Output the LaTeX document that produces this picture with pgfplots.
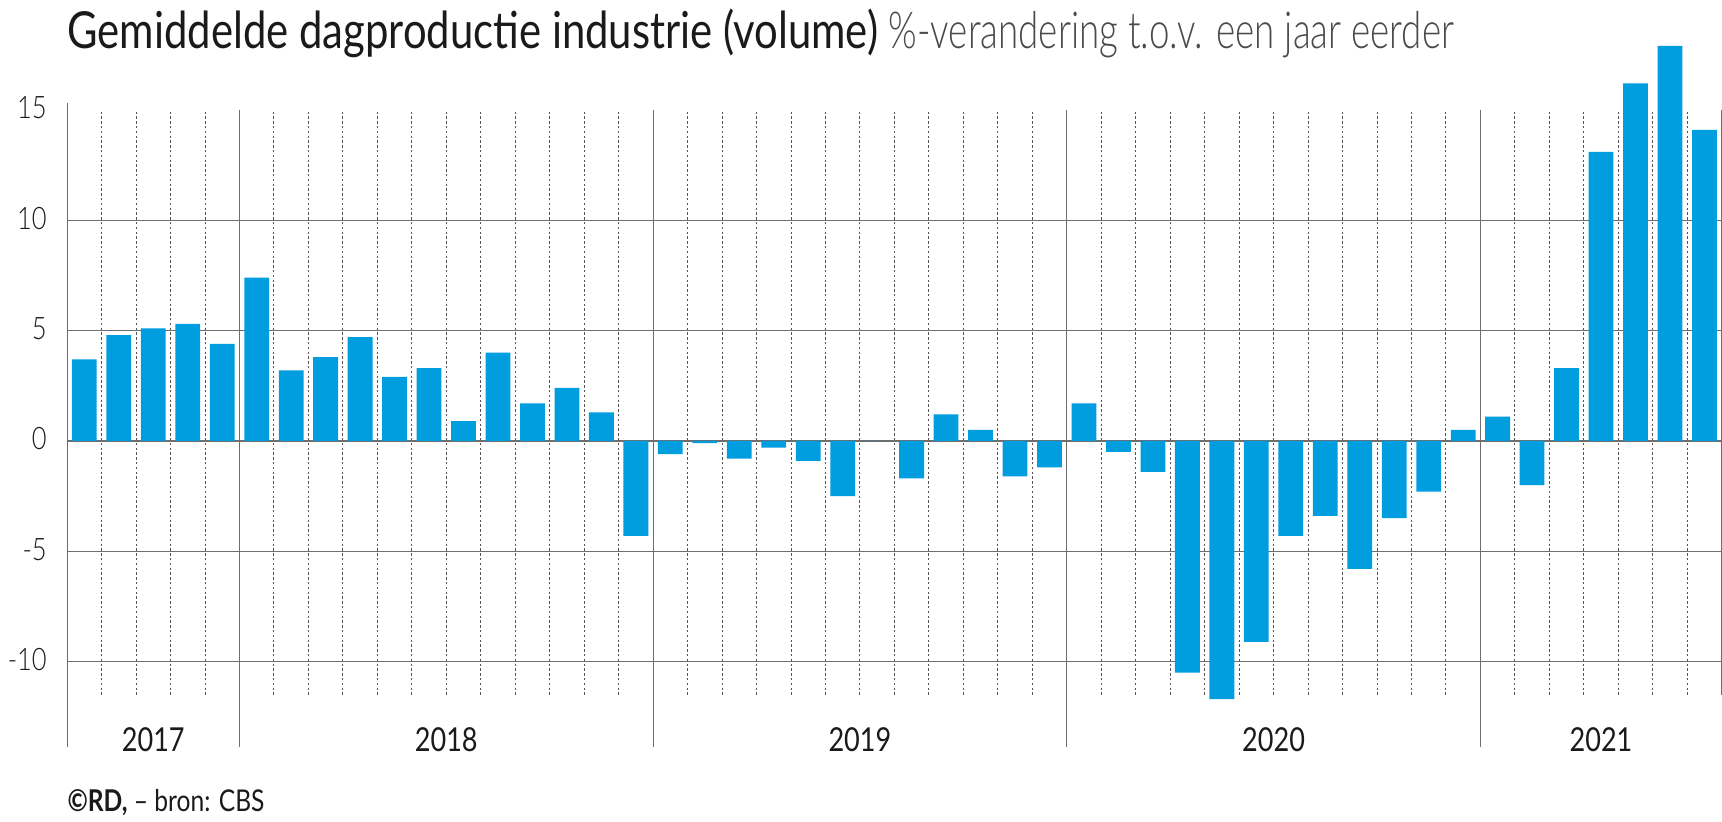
\documentclass[border=0pt]{standalone}
\usepackage{fontspec}
\setmainfont{Lato}[FakeStretch=0.82]
\newfontface\lightfont{Lato Light}[FakeStretch=0.82]
\newfontface\sublightfont{Lato Light}[FakeStretch=0.72]
\usepackage{pgfplots}
\pgfplotsset{compat=1.18}
\definecolor{barblue}{HTML}{009DDF}
\definecolor{gridc}{HTML}{6E6E6E}
\definecolor{dotc}{HTML}{555555}
\definecolor{subgray}{HTML}{4A4A4A}
\definecolor{txt}{HTML}{1A1A1A}

\begin{document}
\begin{tikzpicture}
\begin{axis}[
  x=17.235pt, y=11.035pt,
  xmin=-0.5, xmax=47.5, ymin=-11.5, ymax=15,
  clip=false,
  axis line style={draw=none},
  major tick length=0pt,
  xtick=\empty,
  ytick={-10,-5,0,5,10},
  yticklabels={-10,-5,0,5,10},
  extra y ticks={15},
  extra y tick labels={15},
  extra y tick style={grid=none},
  ymajorgrids,
  y grid style={gridc, line width=0.6pt},
  yticklabel style={font=\lightfont\fontsize{15.5}{15.5}\selectfont, text=txt, anchor=east, inner sep=0pt, xshift=-10pt, yshift=1pt},
]
% dotted month boundaries
\pgfplotsinvokeforeach{0.5,1.5,2.5,3.5,5.5,6.5,7.5,8.5,9.5,10.5,11.5,12.5,13.5,14.5,15.5,17.5,18.5,19.5,20.5,21.5,22.5,23.5,24.5,25.5,26.5,27.5,29.5,30.5,31.5,32.5,33.5,34.5,35.5,36.5,37.5,38.5,39.5,41.5,42.5,43.5,44.5,45.5,46.5}{
  \draw[dotc, line width=0.45pt, dash pattern=on 1.2pt off 1.2pt] (axis cs:#1,-11.5) -- (axis cs:#1,15);
}
% year separators and frame
\draw[gridc, line width=0.6pt] (axis cs:-0.5,15.3) -- (axis cs:-0.5,-13.87);
\draw[gridc, line width=0.6pt] (axis cs:4.5,15) -- (axis cs:4.5,-13.87);
\draw[gridc, line width=0.6pt] (axis cs:16.5,15) -- (axis cs:16.5,-13.87);
\draw[gridc, line width=0.6pt] (axis cs:28.5,15) -- (axis cs:28.5,-13.87);
\draw[gridc, line width=0.6pt] (axis cs:40.5,15) -- (axis cs:40.5,-13.87);
\draw[gridc, line width=0.6pt] (axis cs:47.5,15) -- (axis cs:47.5,-11.5);

\addplot[ybar, bar width=12.4pt, fill=barblue, draw=none] coordinates {
 (0,3.7) (1,4.8) (2,5.1) (3,5.3) (4,4.4)
 (5,7.4) (6,3.2) (7,3.8) (8,4.7) (9,2.9) (10,3.3) (11,0.9) (12,4.0) (13,1.7) (14,2.4) (15,1.3) (16,-4.3)
 (17,-0.6) (18,-0.1) (19,-0.8) (20,-0.3) (21,-0.9) (22,-2.5) (23,0.0) (24,-1.7) (25,1.2) (26,0.5) (27,-1.6) (28,-1.2)
 (29,1.7) (30,-0.5) (31,-1.4) (32,-10.5) (33,-11.7) (34,-9.1) (35,-4.3) (36,-3.4) (37,-5.8) (38,-3.5) (39,-2.3) (40,0.5)
 (41,1.1) (42,-2.0) (43,3.3) (44,13.1) (45,16.2) (46,17.9) (47,14.1)
};

\node[font=\fontsize{16.5}{16.5}\selectfont, text=txt] at (axis cs:2,-13.55) {2017};
\node[font=\fontsize{16.5}{16.5}\selectfont, text=txt] at (axis cs:10.5,-13.55) {2018};
\node[font=\fontsize{16.5}{16.5}\selectfont, text=txt] at (axis cs:22.5,-13.55) {2019};
\node[font=\fontsize{16.5}{16.5}\selectfont, text=txt] at (axis cs:34.5,-13.55) {2020};
\node[font=\fontsize{16.5}{16.5}\selectfont, text=txt] at (axis cs:44,-13.55) {2021};

\node[anchor=base west, inner sep=0pt, text=txt, font=\fontsize{25.5}{25.5}\selectfont] at (axis cs:-0.5,17.76)
  {Gemiddelde dagproductie industrie (volume) {\sublightfont\color{subgray}\%-verandering t.o.v. een jaar eerder}};

\node[anchor=west, inner sep=0pt, text=txt, font=\fontsize{15}{15}\selectfont] at (axis cs:-0.5,-16.4)
  {\textbf{©RD,} – bron: CBS};

\coordinate (BL) at (axis cs:-2.447,-17.22);
\coordinate (TR) at (axis cs:47.51,19.98);
\end{axis}
\pgfresetboundingbox
\path[use as bounding box] (BL) rectangle (TR);
\end{tikzpicture}
\end{document}
